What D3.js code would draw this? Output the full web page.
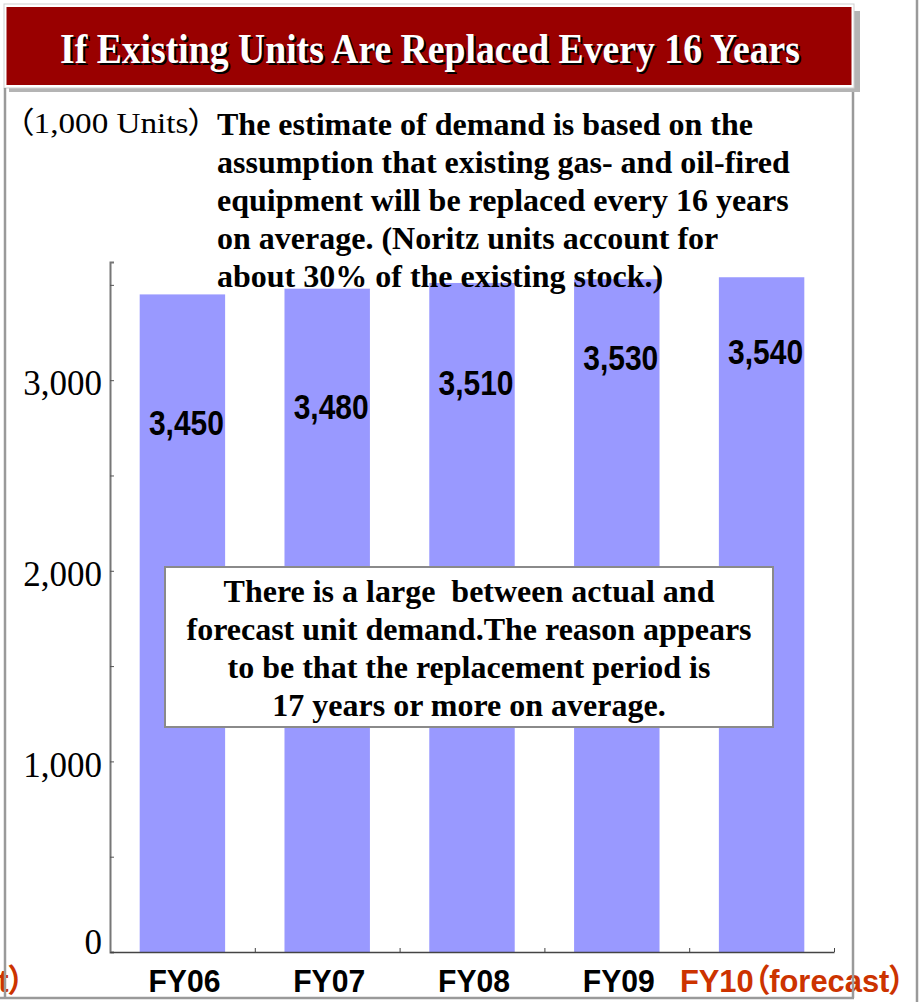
<!DOCTYPE html>
<html>
<head>
<meta charset="utf-8">
<script src="https://cdn.jsdelivr.net/npm/d3@7"></script>
<style>
  html, body { margin: 0; padding: 0; background: #fff; }
  svg { display: block; }
</style>
</head>
<body>
<svg id="chart" width="921" height="1002"></svg>
<script>
// Replacement-demand estimate, thousands of units per fiscal year
const categories = ["FY06", "FY07", "FY08", "FY09", "FY10（forecast）"];
const forecastFlags = [false, false, false, false, true];
const demand = [3450, 3480, 3510, 3530, 3540];
const yTicks = [0, 500, 1000, 1500, 2000, 2500, 3000, 3500];
const yTickLabels = ["0", "", "1,000", "", "2,000", "", "3,000", ""];
const valueLabels = ["3,450", "3,480", "3,510", "3,530", "3,540"];

const titleText = "If Existing Units Are Replaced Every 16 Years";
const unitText = "（1,000 Units）";
const noteLines = [
  "The estimate of demand is based on the",
  "assumption that existing gas- and oil-fired",
  "equipment will be replaced every 16 years",
  "on average. (Noritz units account for",
  "about 30% of the existing stock.)"
];
const calloutLines = [
  "There is a large  between actual and",
  "forecast unit demand.The reason appears",
  "to be that the replacement period is",
  "17 years or more on average."
];

const SERIF = "'Liberation Serif', 'Times New Roman', Times, serif";
const SANS = "'Liberation Sans', Arial, 'Noto Sans CJK JP', sans-serif";
const BAR = "#9999ff";
const ORANGE = "#cc3300";

const svg = d3.select("#chart");

// Plot geometry
const plot = { left: 110, right: 834, top: 262, bottom: 952 };

const x = d3.scaleBand()
  .domain(categories)
  .range([plot.left, plot.right])
  .paddingInner(0.41)
  .paddingOuter(0.205);

const y = d3.scaleLinear()
  .domain([0, 3620])
  .range([plot.bottom, plot.top]);

// Title banner with drop shadow
svg.append("rect").attr("x", 9).attr("y", 11).attr("width", 851).attr("height", 81).attr("fill", "#b4b4b4");
svg.append("rect").attr("x", 4).attr("y", 4).attr("width", 850).attr("height", 84)
  .attr("fill", "#fff").attr("stroke", "#cfcfcf").attr("stroke-width", 1);
svg.append("rect").attr("x", 6.5).attr("y", 7).attr("width", 845).attr("height", 78).attr("fill", "#990000");

const title = svg.append("g");
[[2, 2, "#000"], [0, 0, "#fff"]].forEach(([dx, dy, c]) => {
  title.append("text")
    .attr("x", 60 + dx).attr("y", 63 + dy)
    .attr("font-family", SERIF).attr("font-weight", "bold").attr("font-size", 42)
    .attr("textLength", 740).attr("lengthAdjust", "spacingAndGlyphs")
    .attr("fill", c)
    .text(titleText);
});

// Bars
svg.append("g").selectAll("rect")
  .data(demand)
  .join("rect")
  .attr("x", (d, i) => x(categories[i]))
  .attr("y", d => y(d))
  .attr("width", x.bandwidth())
  .attr("height", d => y(0) - y(d))
  .attr("fill", BAR);

// Value labels, dropped below each bar top
const labelDrop = [141, 130, 112, 91, 87];
svg.append("g").selectAll("text")
  .data(demand)
  .join("text")
  .attr("x", (d, i) => x(categories[i]) + x.bandwidth() / 2 + 4)
  .attr("y", (d, i) => y(d) + labelDrop[i])
  .attr("text-anchor", "middle")
  .attr("font-family", SANS).attr("font-weight", "bold").attr("font-size", 35)
  .attr("textLength", 75).attr("lengthAdjust", "spacingAndGlyphs")
  .attr("fill", "#000")
  .text((d, i) => valueLabels[i]);

// Y axis with inward ticks
const yAxis = d3.axisLeft(y)
  .tickValues(yTicks)
  .tickSize(-4)
  .tickPadding(8)
  .tickFormat((d, i) => yTickLabels[i]);

const yg = svg.append("g").attr("transform", `translate(${plot.left},0)`).call(yAxis);
yg.select(".domain").attr("stroke", "#777").attr("stroke-width", 2);
yg.selectAll(".tick line").attr("stroke", "#555");
yg.selectAll(".tick text")
  .attr("font-family", SERIF).attr("font-size", 35).attr("fill", "#000")
  .attr("dy", d => d === 0 ? "0.05em" : "0.42em");

// X axis: boundary ticks between categories
const xEdges = d3.scaleLinear().domain([0, categories.length]).range([plot.left, plot.right]);
const xAxis = d3.axisBottom(xEdges)
  .tickValues(d3.range(1, categories.length + 1))
  .tickSize(-4)
  .tickSizeOuter(0)
  .tickFormat("");
const xg = svg.append("g").attr("transform", `translate(0,${plot.bottom})`).call(xAxis);
xg.select(".domain").attr("stroke", "#444").attr("stroke-width", 1.5);
xg.selectAll(".tick line").attr("stroke", "#444");

// Category labels (proportional punctuation for the full-width brackets)
svg.append("g").selectAll("text")
  .data(categories)
  .join("text")
  .attr("x", (d, i) => forecastFlags[i] ? x(d) - 9 - 30 : x(d) + x.bandwidth() / 2 + 2)
  .attr("y", 992)
  .attr("text-anchor", (d, i) => forecastFlags[i] ? "start" : "middle")
  .attr("font-family", SANS).attr("font-weight", "bold").attr("font-size", 32)
  .style("font-feature-settings", "'palt' 1")
  .attr("textLength", (d, i) => forecastFlags[i] ? 225 : 72)
  .attr("lengthAdjust", "spacingAndGlyphs")
  .attr("fill", (d, i) => forecastFlags[i] ? ORANGE : "#000")
  .text(d => d);

// Forecast label of the neighbouring panel, cut off at the left edge
svg.append("text")
  .attr("x", 24).attr("y", 992)
  .attr("text-anchor", "end")
  .attr("font-family", SANS).attr("font-weight", "bold").attr("font-size", 32)
  .style("font-feature-settings", "'palt' 1")
  .attr("textLength", 225).attr("lengthAdjust", "spacingAndGlyphs")
  .attr("fill", ORANGE)
  .text(categories[categories.length - 1]);

// Unit label and explanatory note
svg.append("text")
  .attr("x", 17).attr("y", 133)
  .attr("font-family", "'Liberation Serif', 'Noto Sans CJK JP', serif").attr("font-size", 30)
  .style("font-feature-settings", "'palt' 1")
  .attr("textLength", 188).attr("lengthAdjust", "spacingAndGlyphs")
  .attr("fill", "#000")
  .text(unitText);

svg.append("g").selectAll("text")
  .data(noteLines)
  .join("text")
  .attr("x", 217)
  .attr("y", (d, i) => 135 + i * 38)
  .attr("font-family", SERIF).attr("font-weight", "bold").attr("font-size", 32)
  .attr("fill", "#000")
  .text(d => d);

// Callout box
svg.append("rect")
  .attr("x", 165).attr("y", 567).attr("width", 608).attr("height", 160)
  .attr("fill", "#fff").attr("stroke", "#8a8a8a").attr("stroke-width", 2);

svg.append("g").selectAll("text")
  .data(calloutLines)
  .join("text")
  .attr("x", 469)
  .attr("y", (d, i) => 602 + i * 38)
  .attr("text-anchor", "middle")
  .attr("font-family", SERIF).attr("font-weight", "bold").attr("font-size", 32)
  .style("white-space", "pre")
  .attr("fill", "#000")
  .text(d => d);

// Panel frame lines
const frame = svg.append("g").attr("stroke", "#9a9a9a").attr("stroke-width", 2.5).attr("fill", "none");
frame.append("line").attr("x1", 5).attr("y1", 88).attr("x2", 5).attr("y2", 998);
frame.append("line").attr("x1", 853).attr("y1", 92).attr("x2", 853).attr("y2", 998);
frame.append("line").attr("x1", 0).attr("y1", 998).attr("x2", 854).attr("y2", 998);
frame.append("line").attr("x1", 917).attr("y1", 0).attr("x2", 917).attr("y2", 1002);
</script>
</body>
</html>
